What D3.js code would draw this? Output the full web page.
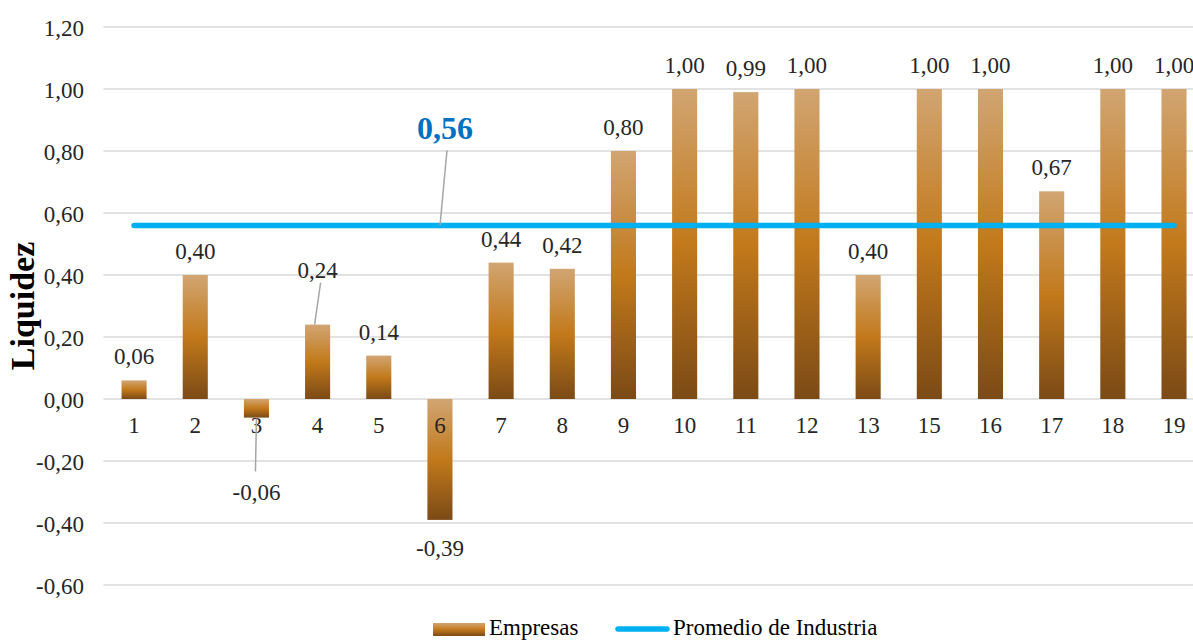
<!DOCTYPE html>
<html>
<head>
<meta charset="utf-8">
<script src="https://cdn.jsdelivr.net/npm/d3@7"></script>
<style>
  html, body { margin: 0; padding: 0; background: #fff; }
  svg { display: block; font-family: "Liberation Serif", "Times New Roman", serif; }
</style>
</head>
<body>
<svg id="chart" width="1193" height="641"></svg>
<script>
// Liquidity ratio per company, with the industry average
const categories = ["1","2","3","4","5","6","7","8","9","10","11","12","13","15","16","17","18","19"];
const empresas = [0.06, 0.40, -0.06, 0.24, 0.14, -0.39, 0.44, 0.42, 0.80, 1.00, 0.99, 1.00, 0.40, 1.00, 1.00, 0.67, 1.00, 1.00];
const promedio = 0.56;
const yTicks = [-0.60, -0.40, -0.20, 0.00, 0.20, 0.40, 0.60, 0.80, 1.00, 1.20];
const seriesNames = ["Empresas", "Promedio de Industria"];

const fmt = v => d3.format(".2f")(v).replace(".", ",").replace("−", "-");

const svg = d3.select("#chart");
const W = 1193, H = 641;
const left = 103.5, right = 1204.6;
const FS = 23;

const x = d3.scaleBand().domain(categories).range([left, right]).paddingInner(0.59).paddingOuter(0.295);
const y = d3.scaleLinear().domain([-0.60, 1.20]).range([585, 27]);

// Bar gradient: light tan at the top, orange in the middle, dark brown at the bottom
const defs = svg.append("defs");
const grad = defs.append("linearGradient").attr("id", "barGrad")
  .attr("x1", 0).attr("y1", 0).attr("x2", 0).attr("y2", 1);
grad.append("stop").attr("offset", "0%").attr("stop-color", "#D1A572");
grad.append("stop").attr("offset", "50%").attr("stop-color", "#C2791B");
grad.append("stop").attr("offset", "100%").attr("stop-color", "#7B4A16");

// Horizontal gridlines
svg.append("g").selectAll("line").data(yTicks).join("line")
  .attr("x1", left).attr("x2", W)
  .attr("y1", d => y(d)).attr("y2", d => y(d))
  .attr("stroke", "#D9D9D9").attr("stroke-width", 1.5);

// Y axis labels
const yAxis = d3.axisLeft(y).tickValues(yTicks).tickFormat(fmt).tickSize(0).tickPadding(0);
const gy = svg.append("g").attr("transform", "translate(84,0)").call(yAxis);
gy.select(".domain").remove();
gy.attr("font-family", null).attr("font-size", null);
gy.selectAll("text").attr("font-size", FS).attr("fill", "#262626")
  .attr("dy", 8);

// Axis title
svg.append("text")
  .attr("transform", `translate(34,${y(0.30)}) rotate(-90)`)
  .attr("text-anchor", "middle")
  .attr("font-size", 34).attr("font-weight", "bold").attr("fill", "#000")
  .text("Liquidez");

// Bars
svg.append("g").selectAll("rect").data(empresas).join("rect")
  .attr("x", (d, i) => x(categories[i]))
  .attr("width", x.bandwidth())
  .attr("y", d => y(Math.max(0, d)))
  .attr("height", d => Math.abs(y(d) - y(0)))
  .attr("fill", "url(#barGrad)");

// X axis category labels
const xAxis = d3.axisBottom(x).tickSize(0).tickPadding(0);
const gx = svg.append("g").attr("transform", `translate(0,${y(0)})`).call(xAxis);
gx.select(".domain").remove();
gx.attr("font-family", null).attr("font-size", null);
gx.selectAll("text").attr("font-size", FS).attr("fill", "#262626")
  .attr("y", 34).attr("dy", null);

// Labels pulled away from their bars, and their leader lines
const nudged = { "3": { dy: 46 }, "4": { dy: -31 } };
const leaders = [
  { cat: "3", y1: 1, x2: -1, y2: 54 },
  { cat: "4", y1: -42, x2: -3, y2: 0, x1: 3 }
];
const leaderG = svg.append("g");
leaders.forEach(l => {
  const cx = x(l.cat) + x.bandwidth() / 2;
  const v = empresas[categories.indexOf(l.cat)];
  const base = y(v);
  leaderG.append("line")
    .attr("x1", cx + (l.x1 || 0)).attr("y1", base + l.y1)
    .attr("x2", cx + l.x2).attr("y2", base + l.y2)
    .attr("stroke", "#A6A6A6").attr("stroke-width", 1.5);
});

// Value labels
svg.append("g").selectAll("text").data(empresas).join("text")
  .attr("x", (d, i) => x(categories[i]) + x.bandwidth() / 2)
  .attr("y", (d, i) => {
    const n = nudged[categories[i]];
    const base = d >= 0 ? y(d) - 16 : y(d) + 36;
    return base + (n ? n.dy : 0);
  })
  .attr("text-anchor", "middle")
  .attr("font-size", FS).attr("fill", "#262626")
  .text(d => fmt(d));

// Industry average line
const first = categories[0], last = categories[categories.length - 1];
svg.append("line")
  .attr("x1", x(first) + x.bandwidth() / 2)
  .attr("x2", x(last) + x.bandwidth() / 2)
  .attr("y1", y(promedio)).attr("y2", y(promedio))
  .attr("stroke", "#00B0F0").attr("stroke-width", 5.5).attr("stroke-linecap", "round");

// Average label with its leader line
svg.append("line")
  .attr("x1", 447).attr("y1", y(promedio) - 75)
  .attr("x2", 440).attr("y2", y(promedio))
  .attr("stroke", "#A6A6A6").attr("stroke-width", 1.5);
svg.append("text")
  .attr("x", 445).attr("y", y(promedio) - 86)
  .attr("text-anchor", "middle")
  .attr("font-size", 32).attr("font-weight", "bold").attr("fill", "#0070C0")
  .text(fmt(promedio));

// Legend
const lg = svg.append("g");
lg.append("rect").attr("x", 433).attr("y", 623).attr("width", 52).attr("height", 13)
  .attr("fill", "url(#barGrad)");
lg.append("text").attr("x", 489).attr("y", 635).attr("font-size", FS).attr("fill", "#000")
  .text(seriesNames[0]);
lg.append("line").attr("x1", 618).attr("x2", 667).attr("y1", 629).attr("y2", 629)
  .attr("stroke", "#00B0F0").attr("stroke-width", 5.5).attr("stroke-linecap", "round");
lg.append("text").attr("x", 673).attr("y", 635).attr("font-size", FS).attr("fill", "#000")
  .text(seriesNames[1]);
</script>
</body>
</html>
